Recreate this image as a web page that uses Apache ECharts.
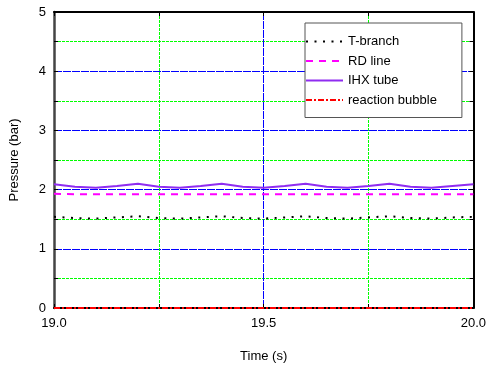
<!DOCTYPE html>
<html>
<head>
<meta charset="utf-8">
<title>Pressure</title>
<script type="text/javascript" src="https://cdn.jsdelivr.net/npm/echarts@6/dist/echarts.min.js"></script>
<style>
	html, body { margin: 0; padding: 0; background: #fff; }
</style>
</head>
<body>
	<div id="main" style="width: 489px; height: 368px;"></div>
<script type="text/javascript">
	// data
	var time = [19.00, 19.05, 19.10, 19.15, 19.20, 19.25, 19.30, 19.35, 19.40, 19.45, 19.50,
		19.55, 19.60, 19.65, 19.70, 19.75, 19.80, 19.85, 19.90, 19.95, 20.00];
	var tBranch = [1.54, 1.52, 1.51, 1.53, 1.55, 1.52, 1.51, 1.53, 1.55, 1.52, 1.51,
		1.53, 1.55, 1.52, 1.51, 1.53, 1.55, 1.52, 1.51, 1.53, 1.54];
	var rdLine = [1.93, 1.92, 1.92, 1.92, 1.92, 1.92, 1.92, 1.92, 1.92, 1.92, 1.92,
		1.92, 1.92, 1.92, 1.92, 1.92, 1.92, 1.92, 1.92, 1.92, 1.92];
	var ihxTube = [2.09, 2.05, 2.03, 2.06, 2.10, 2.05, 2.03, 2.06, 2.10, 2.05, 2.03,
		2.06, 2.10, 2.05, 2.03, 2.06, 2.10, 2.05, 2.03, 2.06, 2.09];
	var reactionBubble = [0, 0, 0, 0, 0, 0, 0, 0, 0, 0, 0,
		0, 0, 0, 0, 0, 0, 0, 0, 0, 0];
	var names = ['T-branch', 'RD line', 'IHX tube', 'reaction bubble'];

	function pairs(ys) {
		return time.map(function (t, i) { return [t, ys[i]]; });
	}

	var font = 'Liberation Sans, Arial, sans-serif';
	function tick() { return { show: true, inside: true, length: 4, lineStyle: { color: '#000', width: 1 } }; }
	function minorTick() { return { show: true, splitNumber: 2, length: 4, lineStyle: { color: '#000', width: 1 } }; }
	// major grid blue (almost solid), minor grid green dotted
	function majorGrid() { return { show: true, lineStyle: { color: '#0000ff', type: [8, 1], width: 1 } }; }
	function minorGrid() { return { show: true, lineStyle: { color: '#00ff00', type: [3, 1], width: 1 } }; }

	var myChart = echarts.init(document.getElementById('main'));
	var option = {
		animation: false,
		textStyle: { fontFamily: font },
		// 424 x 300 plot so every grid line falls on a whole pixel
		grid: { left: 50, right: 15, top: 12, bottom: 56 },
		legend: {
			data: names,
			orient: 'vertical',
			left: 305,
			top: 23,
			padding: [12, 25, 11, 0],
			itemWidth: 37,
			itemHeight: 14,
			itemGap: 6.5,
			backgroundColor: '#fff',
			borderColor: '#555',
			borderWidth: 1,
			itemStyle: { opacity: 0 },
			textStyle: { fontSize: 13, color: '#000', fontFamily: font }
		},
		xAxis: [{
			type: 'value',
			min: 19,
			max: 20,
			interval: 0.5,
			name: 'Time (s)',
			nameLocation: 'middle',
			nameGap: 42,
			nameTextStyle: { fontSize: 13, color: '#000' },
			axisLine: { onZero: false, lineStyle: { color: '#000', width: 2 } },
			axisTick: tick(),
			minorTick: minorTick(),
			axisLabel: {
				color: '#000', fontSize: 13, margin: 9,
				formatter: function (v) { return v.toFixed(1); }
			},
			splitLine: majorGrid(),
			minorSplitLine: minorGrid()
		}, {
			type: 'value',
			position: 'top',
			min: 19,
			max: 20,
			interval: 0.5,
			axisLine: { onZero: false, lineStyle: { color: '#000', width: 2 } },
			axisTick: tick(),
			minorTick: minorTick(),
			axisLabel: { show: false },
			splitLine: { show: false },
			minorSplitLine: { show: false }
		}],
		yAxis: [{
			type: 'value',
			min: 0,
			max: 5,
			interval: 1,
			name: 'Pressure (bar)',
			nameLocation: 'middle',
			nameGap: 33,
			nameTextStyle: { fontSize: 13, color: '#000' },
			axisLine: { show: true, onZero: false, lineStyle: { color: '#444', width: 2.5 } },
			axisTick: tick(),
			minorTick: minorTick(),
			axisLabel: { color: '#000', fontSize: 13, margin: 8 },
			splitLine: majorGrid(),
			minorSplitLine: minorGrid()
		}, {
			type: 'value',
			position: 'right',
			min: 0,
			max: 5,
			interval: 1,
			axisLine: { show: true, onZero: false, lineStyle: { color: '#000', width: 2 } },
			axisTick: tick(),
			minorTick: minorTick(),
			axisLabel: { show: false },
			splitLine: { show: false },
			minorSplitLine: { show: false }
		}],
		series: [{
			name: names[0],
			type: 'line',
			symbol: 'none',
			data: pairs(tBranch),
			lineStyle: { color: '#000', width: 2, type: [2, 6.5] },
			itemStyle: { color: '#000' },
			z: 3
		}, {
			name: names[1],
			type: 'line',
			symbol: 'none',
			data: pairs(rdLine),
			lineStyle: { color: '#ff00ff', width: 2, type: [7, 6] },
			itemStyle: { color: '#ff00ff' },
			z: 3
		}, {
			name: names[2],
			type: 'line',
			symbol: 'none',
			data: pairs(ihxTube),
			lineStyle: { color: '#8f2cf0', width: 2, type: 'solid' },
			itemStyle: { color: '#8f2cf0' },
			z: 3
		}, {
			name: names[3],
			type: 'line',
			symbol: 'none',
			data: pairs(reactionBubble),
			lineStyle: { color: '#ff0000', width: 2, type: [6, 2, 2, 2] },
			itemStyle: { color: '#ff0000' },
			z: 4
		}]
	};
	myChart.setOption(option);
</script>
</body>
</html>
